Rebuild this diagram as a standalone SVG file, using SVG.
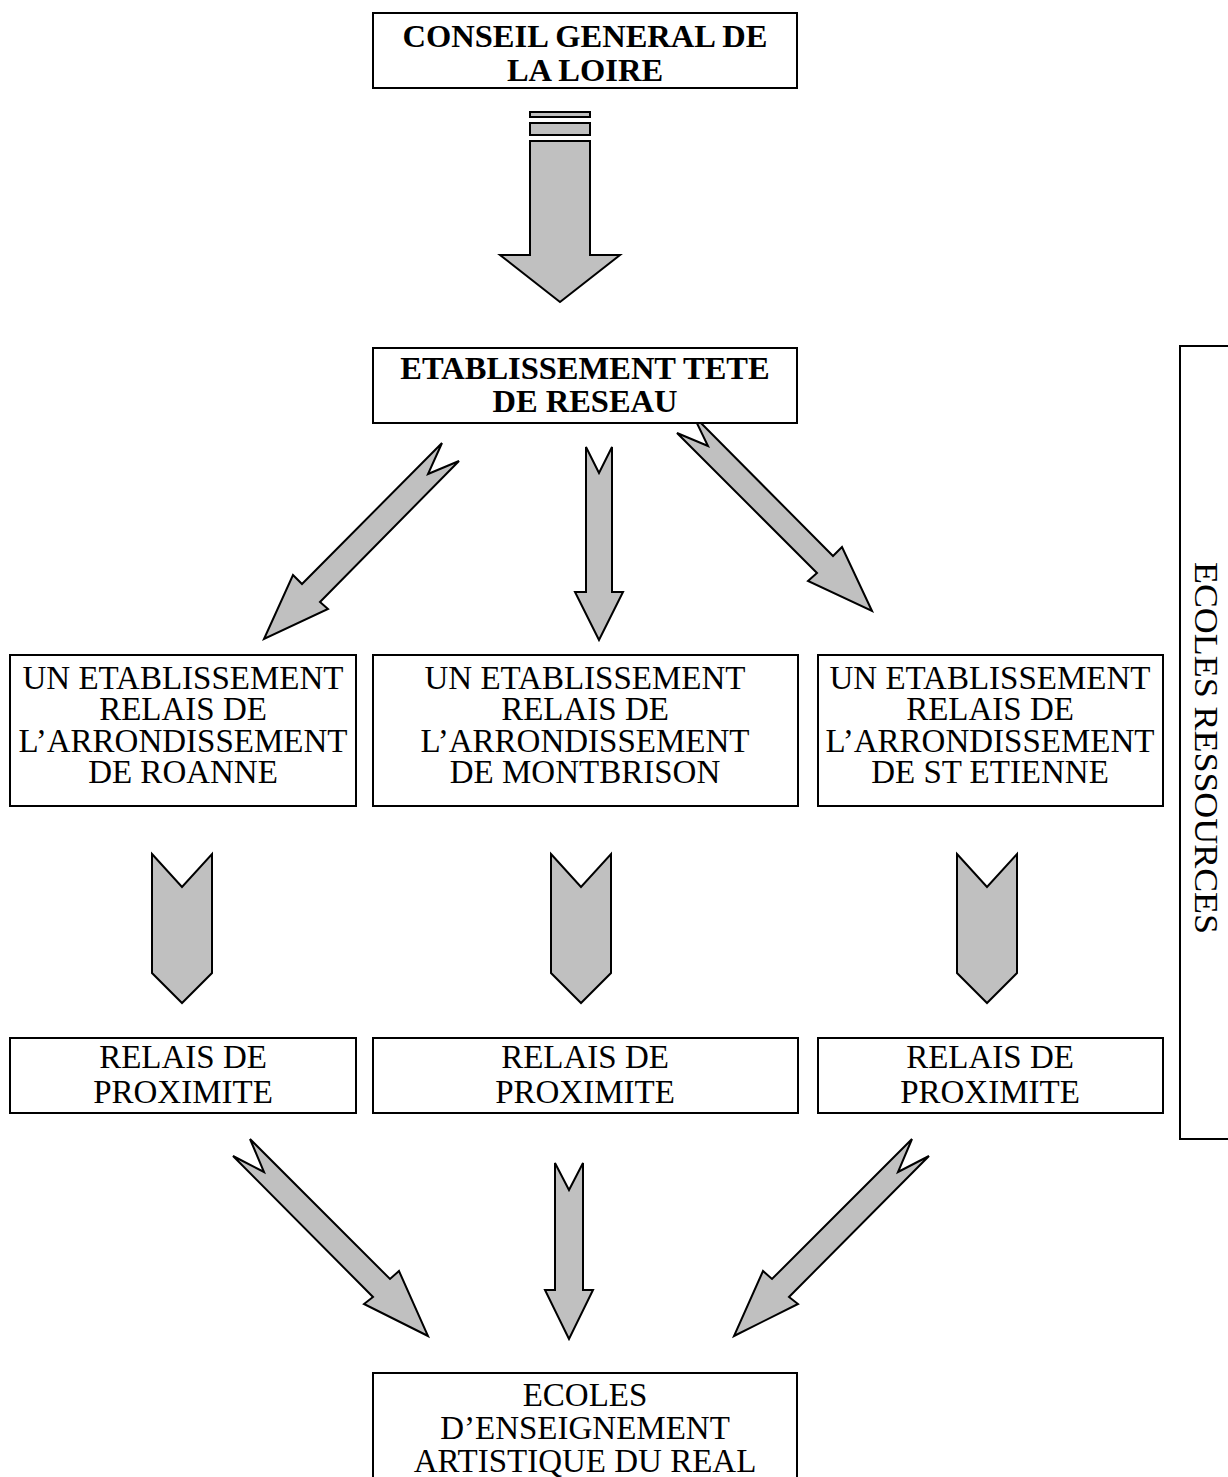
<svg xmlns="http://www.w3.org/2000/svg" width="1228" height="1477" viewBox="0 0 1228 1477">
<style>
.box{fill:#fff;stroke:#000;stroke-width:2}
.arr{fill:#c0c0c0;stroke:#000;stroke-width:2;stroke-linejoin:miter}
.t{font-family:"Liberation Serif","Times New Roman",serif;font-size:33px;text-anchor:middle;fill:#000}
.b{font-weight:bold;font-size:32.5px}
</style>
<rect width="1228" height="1477" fill="#fff"/>
<g id="connectors">
<rect class="arr" x="530" y="112" width="60" height="5"/>
<rect class="arr" x="530" y="123" width="60" height="12"/>
<path class="arr" d="M530,141 H590 V255 H620 L560,302 L500,255 H530 Z"/>
<path class="arr" d="M442,443 L428,474 L459,461 L320,602 L328,609 L264,639 L293,575 L302,584 Z"/>
<path class="arr" d="M586,447 L599,473 L612,447 V592 H623 L599,640 L575,592 H586 Z"/>
<path class="arr" d="M693,415 L708,446 L677,433 L817,573 L808,581 L872,611 L842,547 L833,556 Z"/>
<path class="arr" d="M152,854 L182,887 L212,854 V973 L182,1003 L152,973 Z"/>
<path class="arr" d="M551,854 L581,887 L611,854 V973 L581,1003 L551,973 Z"/>
<path class="arr" d="M957,854 L987,887 L1017,854 V973 L987,1003 L957,973 Z"/>
<path class="arr" d="M250,1139 L264,1172 L233,1156 L373,1297 L364,1304 L428,1336 L399,1271 L390,1279 Z"/>
<path class="arr" d="M555,1163 L569,1190 L583,1163 V1290 H593 L569,1339 L545,1290 H555 Z"/>
<path class="arr" d="M912,1139 L898,1172 L929,1156 L789,1297 L798,1304 L734,1336 L763,1271 L772,1279 Z"/>
</g>
<g id="n-conseil">
<rect class="box" x="373" y="13" width="424" height="75"/>
<text class="t b" x="585" y="47">CONSEIL GENERAL DE</text>
<text class="t b" x="585" y="81">LA LOIRE</text>
</g>
<g id="n-tete">
<rect class="box" x="373" y="348" width="424" height="75"/>
<text class="t b" x="585" y="379">ETABLISSEMENT TETE</text>
<text class="t b" x="585" y="412">DE RESEAU</text>
</g>
<g id="n-roanne">
<rect class="box" x="10" y="655" width="346" height="151"/>
<text class="t" x="183" y="689">UN ETABLISSEMENT</text>
<text class="t" x="183" y="720">RELAIS DE</text>
<text class="t" x="183" y="752">L’ARRONDISSEMENT</text>
<text class="t" x="183" y="783">DE ROANNE</text>
</g>
<g id="n-montbrison">
<rect class="box" x="373" y="655" width="425" height="151"/>
<text class="t" x="585" y="689">UN ETABLISSEMENT</text>
<text class="t" x="585" y="720">RELAIS DE</text>
<text class="t" x="585" y="752">L’ARRONDISSEMENT</text>
<text class="t" x="585" y="783">DE MONTBRISON</text>
</g>
<g id="n-stetienne">
<rect class="box" x="818" y="655" width="345" height="151"/>
<text class="t" x="990" y="689">UN ETABLISSEMENT</text>
<text class="t" x="990" y="720">RELAIS DE</text>
<text class="t" x="990" y="752">L’ARRONDISSEMENT</text>
<text class="t" x="990" y="783">DE ST ETIENNE</text>
</g>
<g id="n-prox1">
<rect class="box" x="10" y="1038" width="346" height="75"/>
<text class="t" x="183" y="1068">RELAIS DE</text>
<text class="t" x="183" y="1103">PROXIMITE</text>
</g>
<g id="n-prox2">
<rect class="box" x="373" y="1038" width="425" height="75"/>
<text class="t" x="585" y="1068">RELAIS DE</text>
<text class="t" x="585" y="1103">PROXIMITE</text>
</g>
<g id="n-prox3">
<rect class="box" x="818" y="1038" width="345" height="75"/>
<text class="t" x="990" y="1068">RELAIS DE</text>
<text class="t" x="990" y="1103">PROXIMITE</text>
</g>
<g id="n-ressources">
<path d="M1240,346 H1180 V1139 H1240" fill="none" stroke="#000" stroke-width="2"/>
<text class="t" transform="translate(1195,748) rotate(90)" x="0" y="0" textLength="372" lengthAdjust="spacingAndGlyphs">ECOLES RESSOURCES</text>
</g>
<g id="n-ecoles">
<rect class="box" x="373" y="1373" width="424" height="120"/>
<text class="t" x="585" y="1406">ECOLES</text>
<text class="t" x="585" y="1439">D’ENSEIGNEMENT</text>
<text class="t" x="585" y="1472">ARTISTIQUE DU REAL</text>
</g>
</svg>
